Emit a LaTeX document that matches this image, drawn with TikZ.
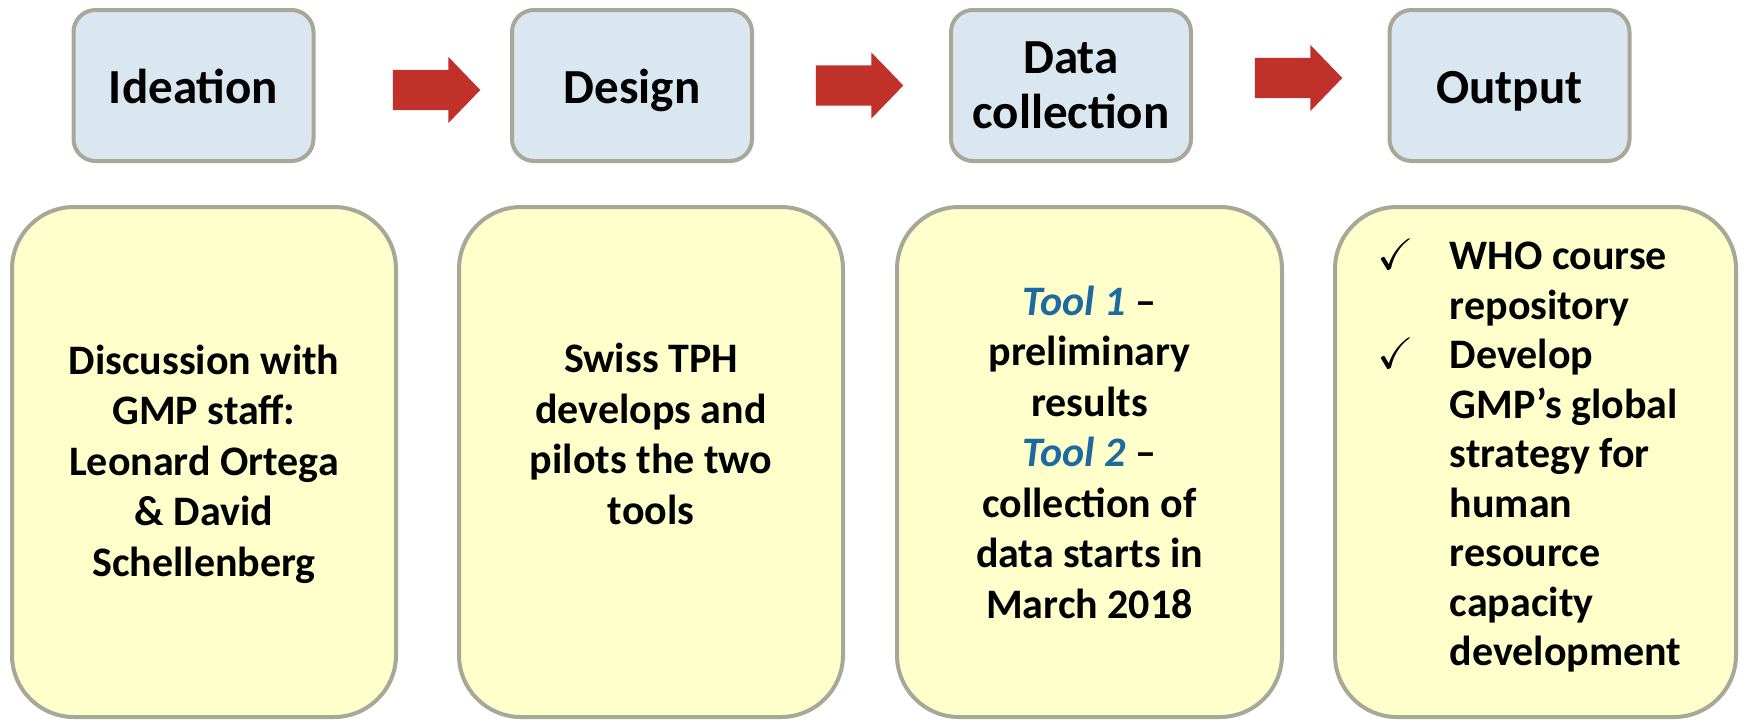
\documentclass[tikz,border=0pt]{standalone}
\usepackage{fontspec}
\setmainfont{Carlito}
\usepackage{amssymb}
\usetikzlibrary{shapes.arrows}
\definecolor{stepblue}{HTML}{DAE7F1}
\definecolor{noteyellow}{HTML}{FFFFCC}
\definecolor{framegray}{HTML}{A7A898}
\definecolor{arrowred}{HTML}{C0312A}
\definecolor{toolblue}{HTML}{1D6AA0}

\begin{document}
\begin{tikzpicture}[x=1pt,y=-1pt,
	stage/.style={draw=framegray,line width=4pt,fill=stepblue,rounded corners=22pt,minimum width=240pt,minimum height=151pt,align=center,font=\fontsize{49}{55}\selectfont\bfseries},
	oneline/.style={text height=36pt,text depth=0pt},
	note/.style={draw=framegray,line width=4pt,fill=noteyellow,rounded corners=62pt,minimum width=384pt,minimum height=510pt},
	notetext/.style={align=center,inner sep=0pt,font=\fontsize{42}{50.5}\selectfont\bfseries},
	blockarrow/.style={single arrow,fill=arrowred,inner xsep=33.8pt,inner ysep=20pt,single arrow head extend=13pt,single arrow tip angle=92}]
		\useasboundingbox (0,0) rectangle (1742,721);
		\node[stage,oneline] (ide) at (193.5,85.5) {Ideation};
		\node[stage,oneline] (des) at (632,85.5) {Design};
		\node[stage] (dat) at (1071,85.5) {Data\\collection};
		\node[stage,oneline] (out) at (1509.5,85.5) {Output};
		\node[blockarrow] (ar1) at (426.8,90) {};
		\node[blockarrow] (ar2) at (849.8,85.5) {};
		\node[blockarrow] (ar3) at (1288.8,78) {};
		\node[note] (nide) at (204,462) {};
		\node[note] (ndes) at (651,462) {};
		\node[note,minimum width=385pt] (ndat) at (1089.5,462) {};
		\node[note,minimum width=401pt] (nout) at (1535.5,462) {};
		\node[notetext] (tide) at (204,464) {Discussion with\\GMP staff:\\Leonard Ortega\\\& David\\Schellenberg};
		\node[notetext] (tdes) at (651,434) {Swiss TPH\\develops and\\pilots the two\\tools};
		\node[notetext] (tdat) at (1089.5,452) {{\color{toolblue}\itshape Tool 1} --\\preliminary\\results\\{\color{toolblue}\itshape Tool 2} --\\collection of\\data starts in\\March 2018};
		\node[notetext,anchor=north west,align=left] (tout) at (1377,235) {\fontsize{42}{49.5}\selectfont
			\begin{tabular}{@{}l@{\hspace{36pt}}l@{}}
			{\fontsize{44}{44}\selectfont$\checkmark$} & WHO course\\
			 & repository\\
			{\fontsize{44}{44}\selectfont$\checkmark$} & Develop\\
			 & GMP’s global\\
			 & strategy for\\
			 & human\\
			 & resource\\
			 & capacity\\
			 & development
			\end{tabular}};
\end{tikzpicture}
\end{document}
